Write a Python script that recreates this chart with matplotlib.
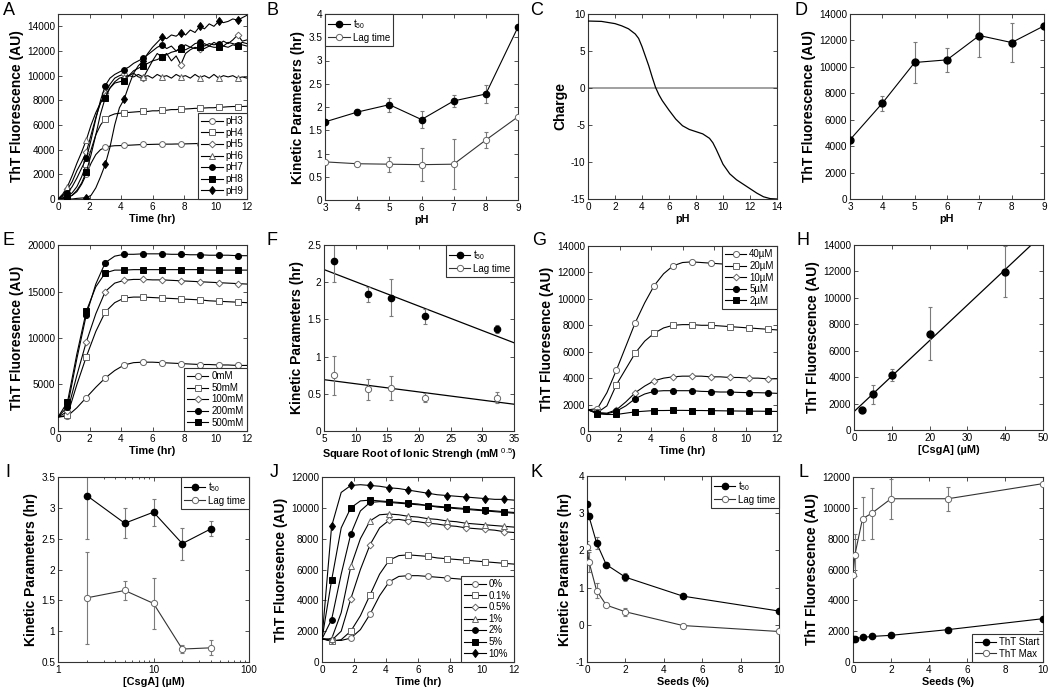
import numpy as np
import matplotlib
matplotlib.use("Agg")
import matplotlib.pyplot as plt
from matplotlib.ticker import MultipleLocator, FuncFormatter, LogLocator, NullFormatter
from matplotlib.lines import Line2D

plt.rcParams['font.family'] = ['Liberation Sans', 'DejaVu Sans']
plt.rcParams['mathtext.fontset'] = 'custom'
plt.rcParams['mathtext.rm'] = 'Liberation Sans'
plt.rcParams['mathtext.it'] = 'Liberation Sans:italic'
plt.rcParams['mathtext.bf'] = 'Liberation Sans:bold'
plt.rcParams['axes.unicode_minus'] = False

# ---------------- DATA ----------------
# Panel A: time course at different pH (0.3 hr resolution)
time_a = np.arange(41) * 0.3
ph_labels_a = ['pH3', 'pH4', 'pH5', 'pH6', 'pH7', 'pH8', 'pH9']
a_ph3 = [0, 50, 150, 300, 600, 1200, 2000, 2900, 3600, 4000,
         4200, 4280, 4320, 4330, 4340, 4360, 4380, 4400, 4420, 4420,
         4430, 4440, 4440, 4450, 4450, 4460, 4460, 4470, 4480, 4490,
         4500, 4500, 4510, 4520, 4520, 4530, 4530, 4540, 4540, 4550, 4550]
a_ph4 = [0, 100, 200, 500, 1000, 1800, 2800, 4000, 5200, 6000,
         6500, 6750, 6900, 6950, 7000, 7020, 7050, 7080, 7100, 7100,
         7150, 7150, 7200, 7200, 7250, 7250, 7300, 7300, 7320, 7350,
         7350, 7380, 7400, 7400, 7450, 7450, 7480, 7500, 7500, 7500, 7520]
a_ph5 = [0, 300, 800, 1400, 2300, 3000, 3800, 5200, 6600, 7800,
         8600, 9300, 9800, 10000, 10100, 10000, 10200, 9900, 9800, 10500,
         11200, 11800, 11500, 11800, 11200, 11600, 10900, 11800, 12100, 12300,
         12200, 12600, 12400, 12700, 12500, 12800, 12600, 12900, 13300, 12800, 12900]
a_ph6 = [0, 400, 1000, 1900, 2900, 3800, 4800, 6000, 7000, 7800,
         8400, 9000, 9500, 9800, 9900, 10000, 9900, 10100, 9900, 10000,
         9800, 10100, 9900, 10000, 9800, 10100, 9900, 10000, 9800, 10100,
         9850, 10000, 9800, 10100, 9800, 10000, 9900, 10000, 9800, 9900, 9800]
a_ph7 = [0, 200, 500, 1000, 1700, 2500, 3300, 4800, 6500, 8000,
         9200, 9800, 10100, 10300, 10500, 10700, 11000, 11200, 11400, 11700,
         12000, 12300, 12500, 12200, 12400, 12000, 12300, 12500, 12300, 12600,
         12700, 12400, 12600, 12500, 12600, 12400, 12700, 12600, 12500, 12700, 12600]
a_ph8 = [0, 0, 100, 300, 700, 1300, 2200, 3600, 5200, 6900,
         8200, 9000, 9400, 9500, 9600, 10000, 10400, 10600, 10800, 11000,
         11200, 11300, 11500, 11700, 11900, 12000, 12200, 12100, 12300, 12200,
         12300, 12200, 12400, 12300, 12300, 12400, 12300, 12500, 12400, 12500, 12400]
a_ph9 = [0, 0, 0, 0, 50, 80, 100, 300, 900, 1800,
         2800, 4200, 6000, 7400, 8100, 9200, 10200, 10800, 11200, 11800,
         12300, 12700, 13100, 13000, 13300, 13200, 13500, 13300, 13700, 13500,
         14000, 13800, 14200, 14000, 14400, 14300, 14400, 14600, 14500, 14700, 14900]

# Panel B: kinetic parameters vs pH
ph_b = [3, 4, 5, 6, 7, 8, 9]
t50_b = [1.68, 1.89, 2.05, 1.73, 2.13, 2.28, 3.72]
t50_b_err = [0.05, 0.06, 0.15, 0.18, 0.12, 0.19, 0.0]
lag_b = [0.82, 0.78, 0.77, 0.76, 0.77, 1.29, 1.79]
lag_b_err = [0.03, 0.04, 0.16, 0.35, 0.54, 0.17, 0.0]

# Panel C: charge vs pH
ph_c = [0, 1, 2, 2.5, 3, 3.5, 3.75, 4, 4.25, 4.5, 4.75, 5, 5.25, 5.5, 6, 6.5, 7,
        7.5, 8, 8.5, 9, 9.25, 9.5, 9.75, 10, 10.5, 11, 11.5, 12, 12.5, 13, 13.5, 14]
charge_c = [9.05, 9.0, 8.7, 8.4, 8.0, 7.3, 6.7, 5.6, 4.3, 3.0, 1.5, 0.1, -0.9, -1.7,
            -3.0, -4.2, -5.1, -5.6, -5.9, -6.2, -6.8, -7.4, -8.3, -9.3, -10.3, -11.6,
            -12.4, -13.0, -13.6, -14.2, -14.7, -14.95, -15.0]

# Panel D: max ThT vs pH
ph_d = [3, 4, 5, 6, 7, 8, 9]
tht_d = [4480, 7250, 10330, 10530, 12370, 11840, 13100]
tht_d_err = [0, 580, 1575, 900, 1640, 1450, 0]

# Panel E: time course at different NaCl
time_e = np.arange(21) * 0.6
salt_labels_e = ['0mM', '50mM', '100mM', '200mM', '500mM']
e_0 = [1500, 1600, 2500, 3600, 4700, 5700, 6500, 7100, 7350, 7400, 7400, 7350, 7300,
       7250, 7200, 7150, 7150, 7100, 7100, 7050, 7050]
e_50 = [1500, 1700, 5000, 8000, 10700, 12800, 13800, 14300, 14400, 14400, 14350, 14300,
        14250, 14200, 14150, 14100, 14000, 13950, 13900, 13850, 13800]
e_100 = [1500, 2100, 6000, 9600, 12600, 15000, 15900, 16200, 16300, 16300, 16250, 16250,
         16200, 16150, 16100, 16050, 16000, 15950, 15900, 15850, 15800]
e_200 = [1500, 2600, 7800, 12500, 15800, 18100, 18800, 19000, 19000, 19050, 19050, 19050,
         19000, 19000, 18950, 18950, 18900, 18900, 18900, 18850, 18850]
e_500 = [1500, 3100, 8300, 12900, 15500, 17000, 17300, 17300, 17350, 17350, 17350, 17350,
         17350, 17350, 17350, 17350, 17300, 17300, 17300, 17300, 17300]

# Panel F: kinetic parameters vs sqrt ionic strength
sqrt_i_f = [6.5, 11.9, 15.6, 21.0, 32.3]
t50_f = [2.28, 1.84, 1.79, 1.54, 1.37]
t50_f_err = [0.28, 0.10, 0.25, 0.10, 0.055]
lag_f = [0.75, 0.56, 0.58, 0.45, 0.45]
lag_f_err = [0.26, 0.14, 0.16, 0.065, 0.07]
fit_t50_f = [2.334, -0.0328]   # intercept, slope
fit_lag_f = [0.745, -0.011]

# Panel G: time course at different CsgA concentration
time_g = np.arange(21) * 0.6
conc_labels_g = ['40\u00b5M', '20\u00b5M', '10\u00b5M', '5\u00b5M', '2\u00b5M']
g_40 = [1600, 1700, 2900, 4600, 6400, 8200, 9700, 11000, 11900, 12500, 12750, 12800,
        12750, 12700, 12650, 12600, 12550, 12500, 12450, 12400, 12350]
g_20 = [1600, 1400, 1900, 3500, 4700, 5900, 6800, 7400, 7800, 8000, 8050, 8050, 8000,
        8000, 7950, 7900, 7850, 7800, 7750, 7700, 7650]
g_10 = [1600, 1400, 1350, 1600, 2200, 2900, 3400, 3800, 4000, 4100, 4150, 4150, 4150,
        4100, 4100, 4050, 4050, 4000, 4000, 3950, 3950]
g_5 = [1600, 1350, 1300, 1500, 1900, 2450, 2800, 3000, 3050, 3050, 3050, 3050, 3000,
       2980, 2950, 2950, 2920, 2900, 2900, 2880, 2850]
g_2 = [1600, 1300, 1250, 1250, 1350, 1450, 1500, 1550, 1550, 1560, 1560, 1550, 1550,
       1540, 1530, 1520, 1510, 1500, 1500, 1490, 1480]

# Panel H: max ThT vs CsgA
csga_h = [2, 5, 10, 20, 40]
tht_h = [1515, 2700, 4170, 7300, 11970]
tht_h_err = [0, 730, 445, 2030, 1920]
fit_h = [1390, 268.9]   # intercept, slope

# Panel I: kinetic parameters vs CsgA
csga_i = [2, 5, 10, 20, 40]
t50_i = [3.20, 2.75, 2.93, 2.42, 2.66]
t50_i_err = [0.70, 0.245, 0.22, 0.26, 0.12]
lag_i = [1.54, 1.66, 1.45, 0.71, 0.73]
lag_i_err = [0.75, 0.15, 0.41, 0.07, 0.12]

# Panel J: time course with seeds
time_j = np.arange(21) * 0.6
seed_labels_j = ['0%', '0.1%', '0.5%', '1%', '2%', '5%', '10%']
j_0 = [1500, 1400, 1400, 1550, 2100, 3100, 4300, 5200, 5550, 5600, 5600, 5550, 5500,
       5450, 5400, 5350, 5300, 5250, 5200, 5150, 5100]
j_01 = [1500, 1350, 1450, 2000, 3000, 4350, 5700, 6600, 6900, 6950, 6900, 6850, 6750,
        6700, 6650, 6600, 6550, 6500, 6450, 6400, 6350]
j_05 = [1500, 1400, 2000, 4100, 6000, 7600, 8700, 9200, 9250, 9150, 9100, 9000, 8950,
        8850, 8800, 8700, 8650, 8600, 8550, 8450, 8400]
j_1 = [1500, 1500, 3200, 6200, 8000, 9150, 9550, 9600, 9550, 9450, 9400, 9300, 9250,
       9150, 9100, 9000, 8950, 8900, 8850, 8800, 8750]
j_2 = [1500, 2750, 5700, 8300, 9800, 10350, 10400, 10350, 10300, 10250, 10200, 10150,
       10050, 10000, 9950, 9900, 9850, 9800, 9750, 9700, 9650]
j_5 = [1500, 5300, 8700, 10000, 10450, 10500, 10450, 10400, 10350, 10300, 10250, 10150,
       10100, 10050, 10000, 9950, 9900, 9850, 9800, 9750, 9700]
j_10 = [1500, 8800, 11000, 11450, 11500, 11450, 11400, 11300, 11250, 11150, 11050,
        10950, 10850, 10800, 10750, 10700, 10650, 10600, 10550, 10550, 10500]

# Panel K: kinetic parameters vs seeds
seeds_k = [0, 0.1, 0.5, 1, 2, 5, 10]
t50_k = [3.25, 2.92, 2.20, 1.62, 1.28, 0.77, 0.37]
t50_k_err = [0.04, 0.05, 0.15, 0.04, 0.11, 0.03, 0.03]
lag_k = [2.09, 1.70, 0.92, 0.53, 0.35, -0.02, -0.18]
lag_k_err = [0.15, 0.27, 0.20, 0.05, 0.10, 0.03, 0.03]

# Panel L: ThT start/max vs seeds
seeds_l = [0, 0.1, 0.5, 1, 2, 5, 10]
tht_start_l = [1520, 1520, 1590, 1660, 1730, 2100, 2810]
tht_max_l = [5630, 6960, 9290, 9660, 10590, 10590, 11570]
tht_max_err_l = [0, 1350, 1390, 1650, 1300, 780, 0]

# ---------------- FIGURE ----------------
W, H = 1050, 696
fig = plt.figure(figsize=(W / 100, H / 100), dpi=100)

SPINE = '#333333'
ERRC = '#7a7a7a'
OPEN_EDGE = '#666666'
TICK_FS = 7.2
LEG_FS = 7.0
XLAB_FS = 7.8
YLAB_FS = 10
fmt = FuncFormatter(lambda v, p: '%g' % v)


def new_ax(l, t, r, b):
    return fig.add_axes([l / W, 1 - b / H, (r - l) / W, (b - t) / H])


def style(ax, xlim, ylim, xstep, ystep, xlabel, ylabel, logx=False):
    if logx:
        ax.set_xscale('log')
        ax.xaxis.set_major_locator(LogLocator(base=10))
        ax.xaxis.set_minor_locator(LogLocator(base=10, subs=np.arange(2, 10)))
        ax.xaxis.set_minor_formatter(NullFormatter())
    else:
        ax.xaxis.set_major_locator(MultipleLocator(xstep))
    ax.set_xlim(*xlim)
    ax.set_ylim(*ylim)
    ax.xaxis.set_major_formatter(fmt)
    ax.yaxis.set_major_locator(MultipleLocator(ystep))
    ax.yaxis.set_major_formatter(fmt)
    ax.tick_params(which='both', direction='in', top=True, right=True, length=3,
                   width=0.6, color=SPINE, labelsize=TICK_FS, pad=2)
    ax.tick_params(which='minor', length=1.6)
    for s in ax.spines.values():
        s.set_linewidth(0.8)
        s.set_color(SPINE)
    ax.set_xlabel(xlabel, fontsize=XLAB_FS, fontweight='bold', labelpad=1.5)
    ax.set_ylabel(ylabel, fontsize=YLAB_FS, fontweight='bold', labelpad=2)


def curve(ax, x, y, marker, filled, label, ms=4.0, markevery=None):
    ax.plot(x, y, color='black', lw=0.8, marker=marker, ms=ms,
            mfc='black' if filled else 'white',
            mec='black' if filled else OPEN_EDGE, mew=0.7,
            markevery=markevery, label=label, zorder=3)


def legend(ax, loc, handles=None):
    kw = {}
    if handles is not None:
        kw['handles'] = handles
    lg = ax.legend(loc=loc, borderaxespad=0, fontsize=LEG_FS, fancybox=False,
                   framealpha=1, edgecolor=SPINE, handlelength=2.2,
                   handletextpad=0.3, labelspacing=0.16, borderpad=0.35, **kw)
    lg.get_frame().set_linewidth(0.8)
    lg.set_zorder(10)
    return lg


def errbars(ax, x, y, e):
    ax.errorbar(x, y, yerr=e, fmt='none', ecolor=ERRC, elinewidth=0.8,
                capsize=1.6, capthick=0.8, zorder=2)


def kinetic(ax, x, t50, t50e, lag, lage, line=True):
    errbars(ax, x, t50, t50e)
    errbars(ax, x, lag, lage)
    ls = '-' if line else 'none'
    ax.plot(x, t50, ls=ls, color='black', lw=0.8, marker='o', ms=4.5, mfc='black',
            mec='black', label='t$_{50}$', zorder=3)
    ax.plot(x, lag, ls=ls, color='#333333', lw=0.8, marker='o', ms=4.5, mfc='white',
            mec=OPEN_EDGE, mew=0.7, label='Lag time', zorder=3)


def panel_letter(x, y, s):
    fig.text(x / W, 1 - y / H, s, fontsize=13, ha='left', va='top')


markers7 = [('o', False, 4.2), ('s', False, 4.2), ('D', False, 3.4), ('^', False, 4.2),
            ('o', True, 4.2), ('s', True, 4.2), ('d', True, 4.3)]
markers5 = [('o', False, 4.4), ('s', False, 4.4), ('D', False, 3.4), ('o', True, 4.4),
            ('s', True, 4.4)]

# ---- A ----
ax = new_ax(58, 14, 247, 199)
for yv, lab, (m, f, ms) in zip([a_ph3, a_ph4, a_ph5, a_ph6, a_ph7, a_ph8, a_ph9],
                               ph_labels_a, markers7):
    curve(ax, time_a, yv, m, f, lab, ms=ms, markevery=(2, 4))
style(ax, (0, 12), (0, 15000), 2, 2000, 'Time (hr)', 'ThT Fluorescence (AU)')
legend(ax, 'lower right')
panel_letter(3, 2, 'A')

# ---- B ----
ax = new_ax(325, 14, 518, 200)
kinetic(ax, ph_b, t50_b, t50_b_err, lag_b, lag_b_err)
style(ax, (3, 9), (0, 4), 1, 0.5, 'pH', 'Kinetic Parameters (hr)')
legend(ax, 'upper left')
panel_letter(267, 2, 'B')

# ---- C ----
ax = new_ax(588, 14, 777, 199)
ax.axhline(0, color='#999999', lw=1.3, zorder=1)
ax.plot(ph_c, charge_c, color='black', lw=0.9, zorder=3)
style(ax, (0, 14), (-15, 10), 2, 5, 'pH', 'Charge')
panel_letter(530, 2, 'C')

# ---- D ----
ax = new_ax(850, 14, 1044, 199)
errbars(ax, ph_d, tht_d, tht_d_err)
ax.plot(ph_d, tht_d, color='black', lw=0.8, marker='o', ms=5, mfc='black', mec='black', zorder=3)
style(ax, (3, 9), (0, 14000), 1, 2000, 'pH', 'ThT Fluorescence (AU)')
panel_letter(795, 2, 'D')

# ---- E ----
ax = new_ax(58, 245, 247, 431)
for yv, lab, (m, f, ms) in zip([e_0, e_50, e_100, e_200, e_500], salt_labels_e, markers5):
    curve(ax, time_e, yv, m, f, lab, ms=ms, markevery=(1, 2))
style(ax, (0, 12), (0, 20000), 2, 5000, 'Time (hr)', 'ThT Fluoresence (AU)')
legend(ax, 'lower right')
panel_letter(3, 232, 'E')

# ---- F ----
ax = new_ax(324, 245, 514, 431)
fx = np.array([5.0, 35.0])
ax.plot(fx, fit_t50_f[0] + fit_t50_f[1] * fx, color='black', lw=0.9, zorder=2)
ax.plot(fx, fit_lag_f[0] + fit_lag_f[1] * fx, color='black', lw=0.9, zorder=2)
kinetic(ax, sqrt_i_f, t50_f, t50_f_err, lag_f, lag_f_err, line=False)
style(ax, (5, 35), (0, 2.5), 5, 0.5, 'Square Root of Ionic Strengh (mM $^{0.5}$)',
      'Kinetic Parameters (hr)')
hF = [Line2D([], [], color='black', lw=0.8, marker='o', ms=4.5, mfc='black', mec='black',
             label='t$_{50}$'),
      Line2D([], [], color='#333333', lw=0.8, marker='o', ms=4.5, mfc='white',
             mec=OPEN_EDGE, mew=0.7, label='Lag time')]
legend(ax, 'upper right', handles=hF)
panel_letter(267, 232, 'F')

# ---- G ----
ax = new_ax(588, 246, 777, 431)
for yv, lab, (m, f, ms) in zip([g_40, g_20, g_10, g_5, g_2], conc_labels_g, markers5):
    curve(ax, time_g, yv, m, f, lab, ms=ms, markevery=(1, 2))
style(ax, (0, 12), (0, 14000), 2, 2000, 'Time (hr)', 'ThT Fluoresence (AU)')
legend(ax, 'upper right')
panel_letter(532, 232, 'G')

# ---- H ----
ax = new_ax(854, 245, 1043, 430)
hx = np.array([0.0, 50.0])
ax.plot(hx, fit_h[0] + fit_h[1] * hx, color='black', lw=0.9, zorder=2)
errbars(ax, csga_h, tht_h, tht_h_err)
ax.plot(csga_h, tht_h, ls='none', marker='o', ms=5, mfc='black', mec='black', zorder=3)
style(ax, (0, 50), (0, 14000), 10, 2000, '[CsgA] (\u00b5M)', 'ThT Fluorescence (AU)')
panel_letter(797, 232, 'H')

# ---- I ----
ax = new_ax(58, 477, 249, 662)
kinetic(ax, csga_i, t50_i, t50_i_err, lag_i, lag_i_err)
style(ax, (1, 100), (0.5, 3.5), None, 0.5, '[CsgA] (\u00b5M)', 'Kinetic Parameters (hr)',
      logx=True)
legend(ax, 'upper right')
panel_letter(5, 464, 'I')

# ---- J ----
ax = new_ax(322, 477, 514, 662)
for yv, lab, (m, f, ms) in zip([j_0, j_01, j_05, j_1, j_2, j_5, j_10], seed_labels_j, markers7):
    curve(ax, time_j, yv, m, f, lab, ms=ms, markevery=(1, 2))
style(ax, (0, 12), (0, 12000), 2, 2000, 'Time (hr)', 'ThT Fluoresence (AU)')
legend(ax, 'lower right')
panel_letter(270, 464, 'J')

# ---- K ----
ax = new_ax(587, 476, 779, 662)
kinetic(ax, seeds_k, t50_k, t50_k_err, lag_k, lag_k_err)
style(ax, (0, 10), (-1, 4), 2, 1, 'Seeds (%)', 'Kinetic Parameters (hr)')
legend(ax, 'upper right')
panel_letter(530, 464, 'K')

# ---- L ----
ax = new_ax(853, 477, 1043, 662)
errbars(ax, seeds_l, tht_max_l, tht_max_err_l)
ax.plot(seeds_l, tht_start_l, color='black', lw=0.8, marker='o', ms=4.5, mfc='black',
        mec='black', label='ThT Start', zorder=3)
ax.plot(seeds_l, tht_max_l, color='#333333', lw=0.8, marker='o', ms=4.5, mfc='white',
        mec=OPEN_EDGE, mew=0.7, label='ThT Max', zorder=3)
style(ax, (0, 10), (0, 12000), 2, 2000, 'Seeds (%)', 'ThT Fluorescence (AU)')
legend(ax, 'lower right')
panel_letter(798, 464, 'L')

fig.savefig('out.png', dpi=100)
